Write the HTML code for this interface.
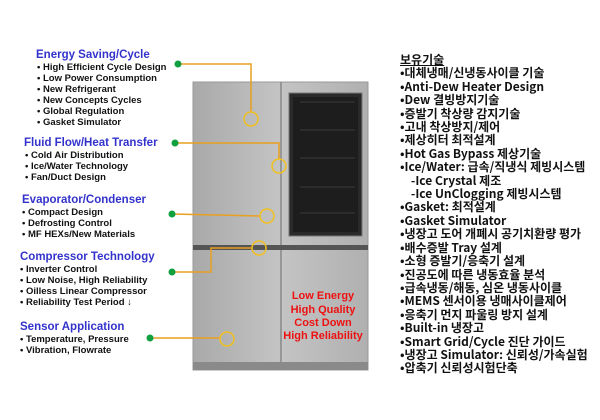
<!DOCTYPE html>
<html><head><meta charset="utf-8"><style>
body{margin:0;width:600px;height:420px;background:#fff;position:relative;overflow:hidden;font-family:"Liberation Sans","Noto Sans CJK KR",sans-serif}
.t{position:absolute;color:#3333cc;font-weight:bold;font-size:11.5px;white-space:nowrap;line-height:12px}
.i{position:absolute;color:#111;font-weight:bold;font-size:9.5px;white-space:nowrap;line-height:11px}
.r{position:absolute;left:400px;font-size:12px;font-weight:bold;color:#111;white-space:nowrap;line-height:13.4px;top:53px;font-family:"Noto Sans CJK KR","Liberation Sans",sans-serif}
</style></head><body>
<svg width="600" height="420" style="position:absolute;left:0;top:0">
<defs><linearGradient id="g" x1="0" x2="1"><stop offset="0" stop-color="#a9a9a9"/><stop offset="0.5" stop-color="#c4c4c4"/><stop offset="1" stop-color="#b0b0b0"/></linearGradient></defs>
<rect x="193" y="82" width="175" height="288" fill="url(#g)" stroke="#999"/>
<line x1="281" y1="82" x2="281" y2="370" stroke="#888" stroke-width="1.5"/>
<rect x="193" y="245" width="175" height="5" fill="#555"/>
<rect x="289" y="93" width="73" height="143" fill="#2a2a2a" stroke="#777"/>
<rect x="293" y="97" width="65" height="135" fill="#1d1d1d"/>
<g stroke="#3a3a3a"><line x1="300" y1="102" x2="355" y2="102"/><line x1="300" y1="130" x2="355" y2="130"/><line x1="300" y1="158" x2="355" y2="158"/><line x1="300" y1="187" x2="355" y2="187"/><line x1="300" y1="213" x2="355" y2="213"/></g>
<rect x="193" y="362" width="175" height="8" fill="#8a8a8a"/>
<g fill="none" stroke="#e8a020" stroke-width="1.5">
<polyline points="178,64 251,64 251,112"/>
<polyline points="175,143 279,143 279,159"/>
<line x1="172" y1="214" x2="260" y2="216"/>
<polyline points="172,272 211,272 211,248 252,248"/>
<line x1="150" y1="338" x2="220" y2="338"/>
</g>
<g fill="none" stroke="#f0c020" stroke-width="1.5">
<circle cx="251" cy="119" r="7"/><circle cx="279" cy="166" r="7"/><circle cx="267" cy="216" r="7"/><circle cx="259" cy="248" r="7"/><circle cx="227" cy="339" r="7"/>
</g>
<g fill="#10a040"><circle cx="178" cy="64" r="3.5"/><circle cx="175" cy="143" r="3.5"/><circle cx="172" cy="214" r="3.5"/><circle cx="172" cy="272" r="3.5"/><circle cx="150" cy="338" r="3.5"/></g>
<g fill="#ee1111" font-weight="bold" font-size="11px" text-anchor="middle" font-family="Liberation Sans">
<text x="323" y="299">Low Energy</text><text x="323" y="313">High Quality</text><text x="323" y="326">Cost Down</text><text x="323" y="339">High Reliability</text></g>
</svg>
<div class="t" style="left:36px;top:49px">Energy Saving/Cycle</div>
<div class="i" style="left:37px;top:62px">• High Efficient Cycle Design<br>• Low Power Consumption<br>• New Refrigerant<br>• New Concepts Cycles<br>• Global Regulation<br>• Gasket Simulator</div>
<div class="t" style="left:24px;top:137px">Fluid Flow/Heat Transfer</div>
<div class="i" style="left:25px;top:150px">• Cold Air Distribution<br>• Ice/Water  Technology<br>• Fan/Duct Design</div>
<div class="t" style="left:22px;top:194px">Evaporator/Condenser</div>
<div class="i" style="left:22px;top:207px">• Compact Design<br>• Defrosting Control<br>• MF HEXs/New Materials</div>
<div class="t" style="left:20px;top:251px">Compressor Technology</div>
<div class="i" style="left:20px;top:264px">• Inverter Control<br>• Low Noise, High Reliability<br>• Oilless  Linear Compressor<br>• Reliability  Test Period ↓</div>
<div class="t" style="left:20px;top:321px">Sensor Application</div>
<div class="i" style="left:20px;top:334px">• Temperature, Pressure<br>• Vibration, Flowrate</div>
<div class="r"><u>보유기술</u><br>•대체냉매/신냉동사이클 기술<br>•Anti-Dew Heater Design<br>•Dew 결빙방지기술<br>•증발기 착상량 감지기술<br>•고내 착상방지/제어<br>•제상히터 최적설계<br>•Hot Gas Bypass 제상기술<br>•Ice/Water: 급속/직냉식 제빙시스템<br>&nbsp;&nbsp;&nbsp;&nbsp;-Ice Crystal 제조<br>&nbsp;&nbsp;&nbsp;&nbsp;-Ice UnClogging 제빙시스템<br>•Gasket: 최적설계<br>•Gasket Simulator<br>•냉장고 도어 개폐시 공기치환량 평가<br>•배수증발 Tray 설계<br>•소형 증발기/응축기 설계<br>•진공도에 따른 냉동효율 분석<br>•급속냉동/해동, 심온 냉동사이클<br>•MEMS 센서이용 냉매사이클제어<br>•응축기 먼지 파울링 방지 설계<br>•Built-in 냉장고<br>•Smart Grid/Cycle 진단 가이드<br>•냉장고 Simulator: 신뢰성/가속실험<br>•압축기 신뢰성시험단축</div>
</body></html>
